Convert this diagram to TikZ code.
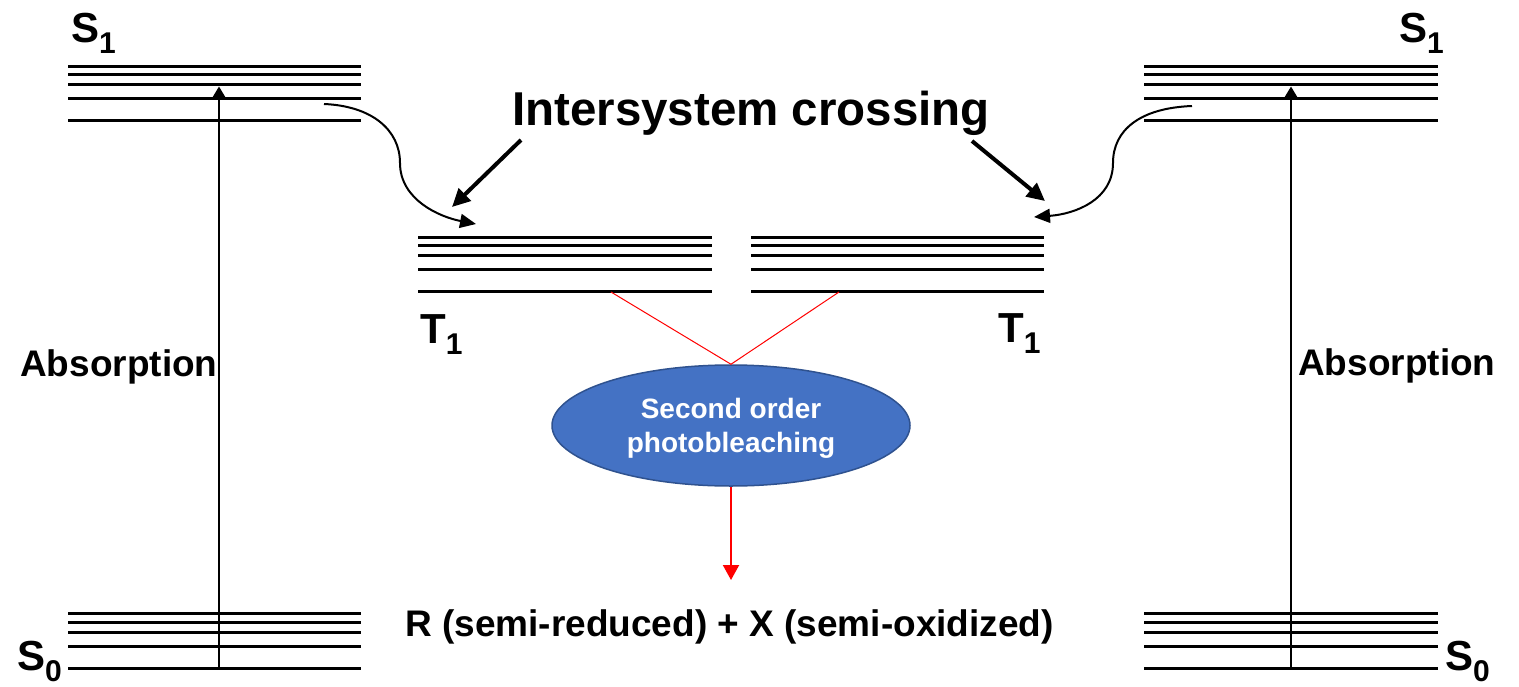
\documentclass[tikz,border=0pt]{standalone}
\usepackage{fontspec}
\setmainfont{Liberation Sans}
\usetikzlibrary{arrows.meta, shapes.geometric}

\definecolor{bleachblue}{HTML}{4472C4}
\definecolor{bleachedge}{HTML}{2F528F}

% state label with a lowered index, e.g. S_1
\newcommand{\statelabel}[2]{#1\raisebox{-11pt}{\fontsize{30}{30}\selectfont #2}}

\begin{document}
\begin{tikzpicture}[
    x=1pt, y=-1pt,
    level/.style={line width=3pt},
    statename/.style={inner sep=0pt, anchor=base west,
                      font=\fontsize{42}{42}\selectfont\bfseries},
    caption/.style={inner sep=0pt, anchor=base,
                    font=\fontsize{37}{37}\selectfont\bfseries},
    absorb/.style={line width=2.2pt, -{Triangle[length=13pt, width=15pt]}},
    isc/.style={line width=4pt, -{Triangle[length=18pt, width=17pt]}},
    hop/.style={line width=2pt, -{Triangle[length=16pt, width=14pt]}},
    redlink/.style={draw=red, line width=1pt},
    redarrow/.style={draw=red, line width=2pt,
                     -{Triangle[length=15pt, width=16pt]}},
    bleach/.style={ellipse, fill=bleachblue, draw=bleachedge,
                   line width=1.5pt, minimum width=358pt,
                   minimum height=121pt, inner sep=0pt, text=white,
                   align=center,
                   font=\fontsize{28}{34}\selectfont\bfseries}
  ]
  \useasboundingbox (0,0) rectangle (1519,686);

  % vibrational levels of S1, T1 and S0
  \foreach \dy in {0, 8.7, 18.7, 32.5, 54.5} {
    \draw[level] (68,66+\dy) -- (361,66+\dy);
    \draw[level] (1144,66+\dy) -- (1438,66+\dy);
    \draw[level] (418,237+\dy) -- (712,237+\dy);
    \draw[level] (751,237+\dy) -- (1044,237+\dy);
    \draw[level] (68,613.5+\dy) -- (361,613.5+\dy);
    \draw[level] (1144,613.5+\dy) -- (1438,613.5+\dy);
  }

  \node[statename] (s1left) at (71,42) {\statelabel{S}{1}};
  \node[statename] (s1right) at (1399,42) {\statelabel{S}{1}};
  \node[statename] (s0left) at (17,670) {\statelabel{S}{0}};
  \node[statename] (s0right) at (1445,670) {\statelabel{S}{0}};
  \node[statename] (t1left) at (420,343) {\statelabel{T}{1}};
  \node[statename] (t1right) at (998,342) {\statelabel{T}{1}};

  % absorption S0 -> S1
  \coordinate (s0l) at (219,668);
  \coordinate (s1l) at (219,86.5);
  \coordinate (s0r) at (1291,668);
  \coordinate (s1r) at (1291,86.5);
  \draw[absorb] (s0l) -- (s1l);
  \draw[absorb] (s0r) -- (s1r);
  \node[caption, anchor=base west] (absleft) at (20,376) {Absorption};
  \node[caption, anchor=base west] (absright) at (1298,375) {Absorption};

  % intersystem crossing S1 -> T1
  \node[caption, font=\fontsize{47.5}{47.5}\selectfont\bfseries]
    (isc) at (751,125) {Intersystem crossing};
  \coordinate (iscl-from) at (521,140);
  \coordinate (iscl-to) at (452,207);
  \coordinate (iscr-from) at (972,141);
  \coordinate (iscr-to) at (1045,201);
  \draw[isc] (iscl-from) -- (iscl-to);
  \draw[isc] (iscr-from) -- (iscr-to);

  \coordinate (hopl-from) at (324,104);
  \coordinate (hopl-to) at (476,224);
  \coordinate (hopr-from) at (1192,106);
  \coordinate (hopr-to) at (1034,217);
  \draw[hop] (hopl-from) .. controls (372,106) and (400,130) .. (400,163)
    .. controls (400,200) and (440,217) .. (hopl-to);
  \draw[hop] (hopr-from) .. controls (1140,108) and (1113,130) .. (1113,163)
    .. controls (1113,200) and (1075,214) .. (hopr-to);

  % two triplets meet
  \node[bleach] (bleach) at (731,425.5)
    {\rule{0pt}{26pt}Second order\\photobleaching};
  \coordinate (t1l) at (611,292);
  \coordinate (t1r) at (839,292);
  \draw[redlink] (t1l) -- (bleach.north) -- (t1r);

  \coordinate (prodtip) at (731,580);
  \draw[redarrow] (bleach.south) -- (prodtip);
  \node[caption] (products) at (729.5,636.5)
    {R (semi-reduced) + X (semi-oxidized)};
\end{tikzpicture}
\end{document}
